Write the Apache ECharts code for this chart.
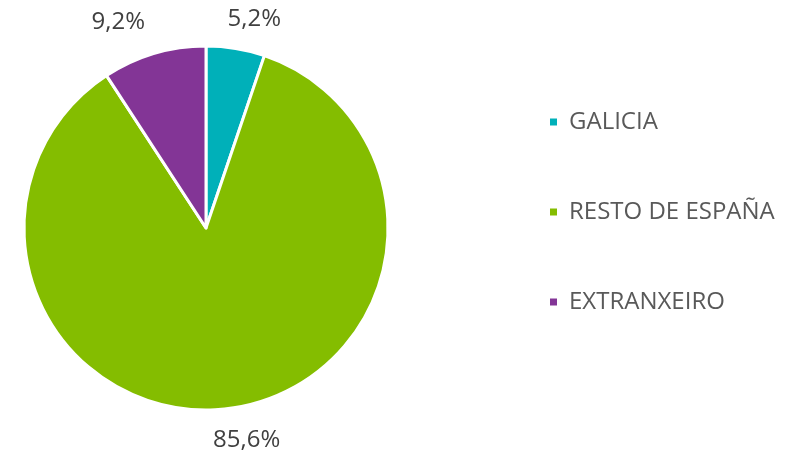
<!DOCTYPE html>
<html><head><meta charset="utf-8">
<script src="https://cdn.jsdelivr.net/npm/echarts@6/dist/echarts.min.js"></script>
<style>html,body{margin:0;padding:0;background:#fff}#c{width:796px;height:454px}</style>
</head><body><div id="c"></div>
<script>
var categories = ['GALICIA', 'RESTO DE ESPAÑA', 'EXTRANXEIRO'];
var values = [5.2, 85.6, 9.2];
var colors = ['#00B0B9', '#84BD00', '#833596'];

var labelNudge = [[-16, -12], [-23, 14], [1, -14]];

var chart = echarts.init(document.getElementById('c'), null, {renderer: 'canvas'});
chart.setOption({
  animation: false,
  color: colors,
  legend: {
    orient: 'vertical',
    left: 543,
    top: 105,
    itemGap: 66,
    itemWidth: 9,
    itemHeight: 9,
    icon: 'rect',
    textStyle: {fontFamily: 'Open Sans', fontSize: 24, color: '#595959', padding: [0,0,0,6]},
    data: categories
  },
  series: [{
    type: 'pie',
    center: [206, 228],
    radius: [0, 182],
    startAngle: 90,
    clockwise: true,
    itemStyle: {borderColor: '#fff', borderWidth: 3},
    label: {
      show: true,
      position: 'outside',
      formatter: function(p){ return p.value.toFixed(1).replace('.', ',') + '%'; },
      fontFamily: 'Open Sans',
      fontSize: 24,
      color: '#404040'
    },
    labelLine: {show: false, length: 18, length2: 0},
    labelLayout: function(p){
      var o = labelNudge[p.dataIndex];
      return {dx: o[0], dy: o[1]};
    },
    data: categories.map(function(n, i){ return {name: n, value: values[i]}; })
  }]
});
</script></body></html>
